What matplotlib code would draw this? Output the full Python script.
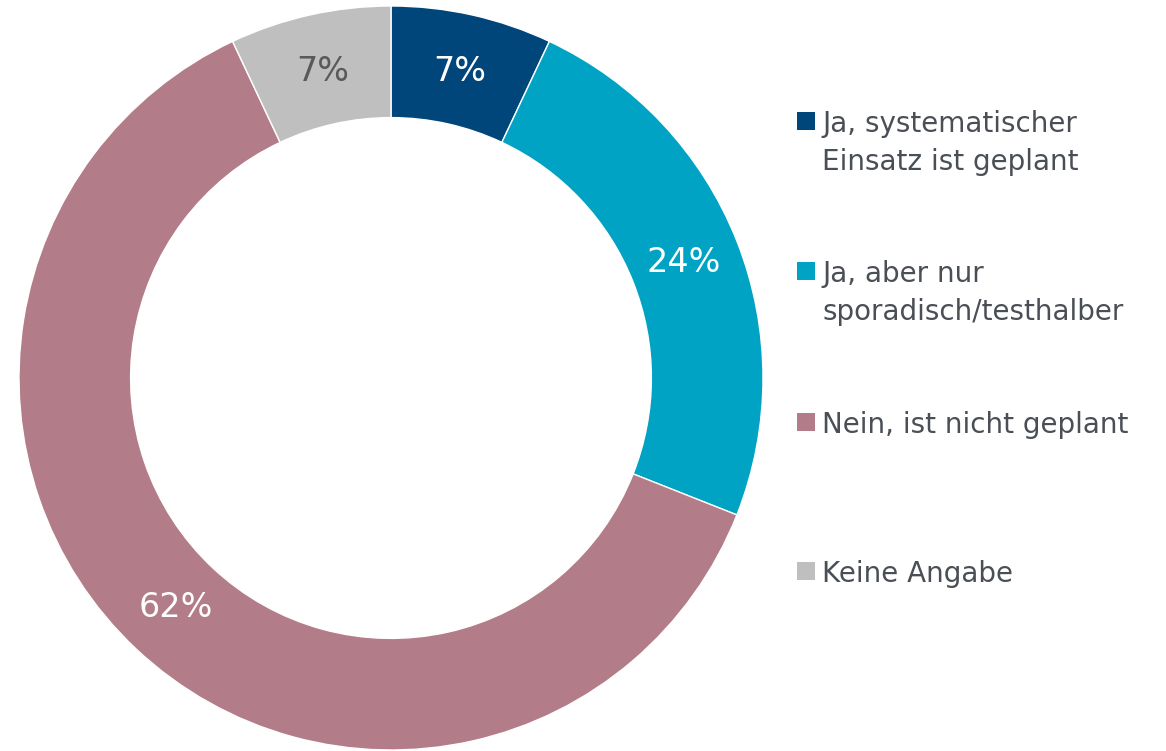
import matplotlib
matplotlib.use("Agg")
import matplotlib.pyplot as plt
from matplotlib.patches import Rectangle

labels = ["Ja, systematischer\nEinsatz ist geplant",
          "Ja, aber nur\nsporadisch/testhalber",
          "Nein, ist nicht geplant",
          "Keine Angabe"]
values = [7, 24, 62, 7]
colors = ["#00467a", "#00a3c3", "#b27c88", "#bfbfbf"]
label_colors = ["white", "white", "white", "#595959"]

W, H = 1166, 751
fig = plt.figure(figsize=(W / 100, H / 100), dpi=100)

# donut: centre (391, 378), outer radius 372 px
cx, cy, R = 391, 378, 372
ax = fig.add_axes([(cx - R) / W, (H - cy - R) / H, 2 * R / W, 2 * R / H])
wedges, texts, autotexts = ax.pie(
    values, colors=colors, startangle=90, counterclock=False,
    radius=1, autopct="%d%%", pctdistance=0.845,
    wedgeprops=dict(width=0.3, edgecolor="white", linewidth=1),
    textprops=dict(fontsize=24, family="DejaVu Sans"))
for t, c in zip(autotexts, label_colors):
    t.set_color(c)
ax.set_xlim(-1, 1)
ax.set_ylim(-1, 1)
ax.set_aspect("equal")
ax.axis("off")

# legend drawn by hand so the square sits on the first line
baselines = [132, 282, 433, 582]
text_color = "#4a4f56"
for lab, col, base in zip(labels, colors, baselines):
    fig.patches.append(Rectangle((797 / W, 1 - (base - 2) / H), 18 / W, 18 / H,
                                 transform=fig.transFigure, facecolor=col,
                                 edgecolor="none"))
    for k, line in enumerate(lab.split("\n")):
        fig.text(822 / W, 1 - (base + 38 * k) / H, line, fontsize=20,
                 color=text_color, va="baseline", ha="left",
                 family="DejaVu Sans")

fig.savefig("out.png", dpi=100)
